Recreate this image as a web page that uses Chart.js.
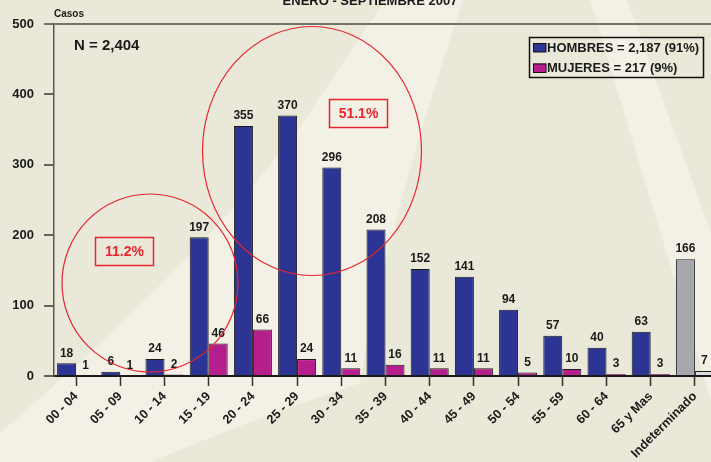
<!DOCTYPE html>
<html>
<head>
<meta charset="utf-8">
<script src="https://cdn.jsdelivr.net/npm/chart.js@4/dist/chart.umd.min.js"></script>
<style>
html,body{margin:0;padding:0;overflow:hidden;background:#EAE8D8;width:711px;height:462px}
#wrap{position:relative;width:717px;height:462px}
canvas{display:block}
</style>
</head>
<body>
<div id="wrap"><canvas id="c" width="717" height="462"></canvas></div>
<script>
// ---- data ----
const categories = ['00 - 04','05 - 09','10 - 14','15 - 19','20 - 24','25 - 29','30 - 34','35 - 39','40 - 44','45 - 49','50 - 54','55 - 59','60 - 64','65 y Mas','Indeterminado'];
const hombres = [18, 6, 24, 197, 355, 370, 296, 208, 152, 141, 94, 57, 40, 63, 166];
const mujeres = [1, 1, 2, 46, 66, 24, 11, 16, 11, 11, 5, 10, 3, 3, 7];
const seriesNames = ['HOMBRES = 2,187 (91%)', 'MUJERES = 217 (9%)'];
const yTicks = [0, 100, 200, 300, 400, 500];
const titleText = 'ENERO - SEPTIEMBRE 2007';
const yAxisTitle = 'Casos';
const totalText = 'N = 2,404';
const groupNotes = ['11.2%', '51.1%'];

// ---- styles ----
const FONT = '"Liberation Sans", Arial, sans-serif';
const BLUE = '#2C3593', PINK = '#B51E8C', GRAY = '#A7A8AC', LGRAY = '#D9DBDF';
const RED = '#E8252F';
const TXT = '#1a1a1a';
const isUndet = c => c === 'Indeterminado';

const bgPlugin = {
  id: 'bg',
  beforeDraw(chart) {
    const ctx = chart.ctx;
    ctx.save();
    ctx.fillStyle = '#EAE8D8';
    ctx.fillRect(0, 0, chart.width, chart.height);
    ctx.fillStyle = '#F3F1E6';
    ctx.beginPath();
    ctx.moveTo(0, 462);
    ctx.lineTo(0, 433);
    ctx.quadraticCurveTo(200, 260, 300, 127);
    ctx.lineTo(385, 0);
    ctx.lineTo(463, 0);
    ctx.quadraticCurveTo(380, 250, 360, 383);
    ctx.quadraticCurveTo(250, 420, 150, 462);
    ctx.closePath();
    ctx.fill();
    ctx.beginPath();
    ctx.moveTo(590, 0);
    ctx.lineTo(627, 0);
    ctx.lineTo(717, 250);
    ctx.lineTo(717, 420);
    ctx.closePath();
    ctx.fill();
    ctx.restore();
  }
};

const decoPlugin = {
  id: 'deco',
  afterDatasetsDraw(chart) {
    const ctx = chart.ctx;
    ctx.save();
    // value labels
    ctx.font = 'bold 12px ' + FONT;
    ctx.fillStyle = TXT;
    ctx.textAlign = 'center';
    ctx.textBaseline = 'bottom';
    chart.data.datasets.forEach((ds, di) => {
      const meta = chart.getDatasetMeta(di);
      meta.data.forEach((el, i) => {
        ctx.fillText(String(ds.data[i]), el.x, el.y - 4);
      });
    });
    // title (cut at top)
    ctx.font = 'bold 13px ' + FONT;
    ctx.textBaseline = 'alphabetic';
    ctx.fillText(titleText, 370, 5);
    // Casos
    ctx.font = 'bold 10px ' + FONT;
    ctx.textAlign = 'left';
    ctx.textBaseline = 'middle';
    ctx.fillText(yAxisTitle, 54, 14);
    // N
    ctx.font = 'bold 15px ' + FONT;
    ctx.fillText(totalText, 74, 46);
    // ellipses
    ctx.strokeStyle = RED;
    ctx.lineWidth = 1.2;
    ctx.beginPath();
    ctx.ellipse(150, 283, 88, 89, 0, 0, Math.PI * 2);
    ctx.stroke();
    ctx.beginPath();
    ctx.ellipse(312, 151, 109.5, 124.5, 0, 0, Math.PI * 2);
    ctx.stroke();
    // boxes
    ctx.lineWidth = 1.5;
    ctx.strokeRect(95.5, 237.5, 58, 28);
    ctx.strokeRect(329.5, 99.5, 58, 28);
    ctx.fillStyle = RED;
    ctx.font = 'bold 14px ' + FONT;
    ctx.textAlign = 'center';
    ctx.fillText(groupNotes[0], 124.5, 252);
    ctx.fillText(groupNotes[1], 358.5, 114);
    // legend
    ctx.strokeStyle = '#111';
    ctx.lineWidth = 1.5;
    ctx.strokeRect(529.5, 37.5, 174, 40);
    const swatch = [BLUE, PINK];
    ctx.font = 'bold 13px ' + FONT;
    ctx.textAlign = 'left';
    ctx.fillStyle = TXT;
    seriesNames.forEach((name, k) => {
      const cy = 47.5 + k * 20.5;
      ctx.fillStyle = swatch[k];
      ctx.fillRect(533, cy - 4.5, 13, 9);
      ctx.strokeStyle = '#111';
      ctx.lineWidth = 1;
      ctx.strokeRect(533.5, cy - 4, 12.5, 8.5);
      ctx.fillStyle = TXT;
      ctx.fillText(name, 547, cy + 0.5);
    });
    ctx.restore();
  }
};

new Chart(document.getElementById('c'), {
  type: 'bar',
  data: {
    labels: categories,
    datasets: [
      {
        label: seriesNames[0],
        data: hombres,
        backgroundColor: categories.map(c => isUndet(c) ? GRAY : BLUE),
        borderColor: '#1b1b1b',
        borderWidth: 1,
        borderSkipped: 'bottom'
      },
      {
        label: seriesNames[1],
        data: mujeres,
        backgroundColor: categories.map(c => isUndet(c) ? LGRAY : PINK),
        borderColor: '#1b1b1b',
        borderWidth: 1,
        borderSkipped: 'bottom'
      }
    ]
  },
  options: {
    responsive: false,
    animation: false,
    devicePixelRatio: 1,
    layout: { padding: { top: 24, left: 0, right: 0, bottom: 0 } },
    plugins: { legend: { display: false }, tooltip: { enabled: false }, title: { display: false } },
    datasets: { bar: { categoryPercentage: 0.86, barPercentage: 1.0 } },
    scales: {
      x: {
        grid: { display: true, drawOnChartArea: false, offset: false, tickLength: 10, tickColor: '#333', tickWidth: 1.5 },
        border: { display: true, color: '#1a1a1a', width: 2 },
        ticks: { color: TXT, font: { family: FONT, size: 12.6, weight: 'bold' }, minRotation: 45, maxRotation: 45, autoSkip: false, padding: 3 },
        afterFit(scale) { scale.height = 86; }
      },
      y: {
        min: 0, max: 500,
        afterBuildTicks(scale) { scale.ticks = yTicks.map(v => ({ value: v })); },
        grid: {
          drawOnChartArea: true,
          color: ctx => (ctx.tick && ctx.tick.value === 500) ? '#74736B' : 'rgba(0,0,0,0)',
          lineWidth: 2,
          tickLength: 10,
          tickColor: ctx => (ctx.tick && ctx.tick.value === 500) ? '#74736B' : '#333',
          tickWidth: ctx => (ctx.tick && ctx.tick.value === 500) ? 2 : 1.5
        },
        border: { display: true, color: '#555', width: 1.5 },
        ticks: { color: TXT, font: { family: FONT, size: 13, weight: 'bold' }, padding: 10 },
        afterFit(scale) { scale.width = 54; }
      }
    }
  },
  plugins: [bgPlugin, decoPlugin]
});
</script>
</body>
</html>
